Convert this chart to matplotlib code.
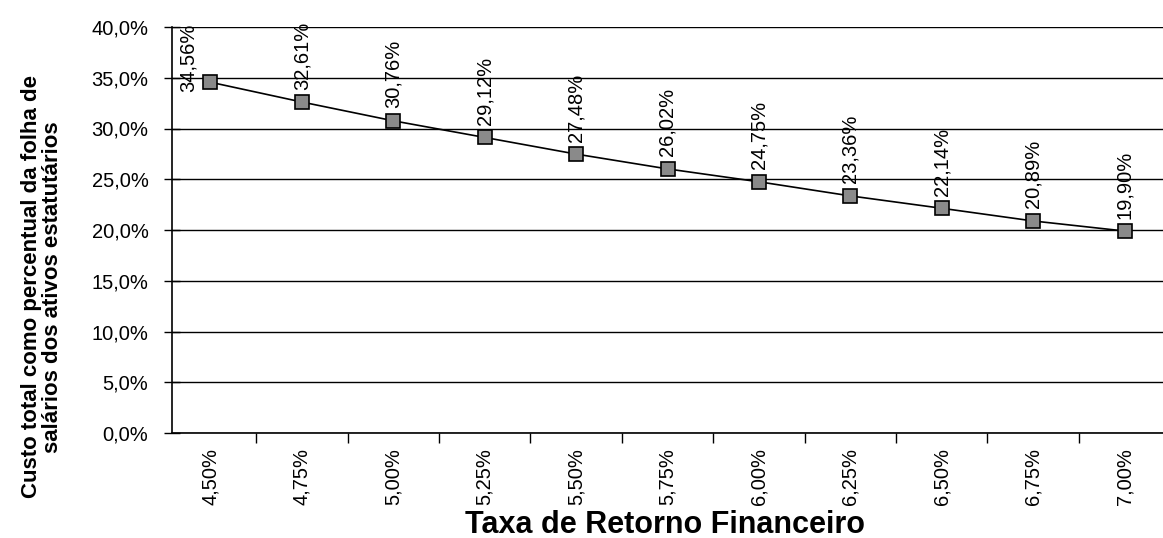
import matplotlib
matplotlib.use("Agg")
import matplotlib.pyplot as plt
from matplotlib.ticker import FixedLocator, FuncFormatter

plt.rcParams['font.family'] = ['Liberation Sans', 'DejaVu Sans']

categories = ["4,50%", "4,75%", "5,00%", "5,25%", "5,50%", "5,75%",
              "6,00%", "6,25%", "6,50%", "6,75%", "7,00%"]
values = [34.56, 32.61, 30.76, 29.12, 27.48, 26.02, 24.75, 23.36, 22.14, 20.89, 19.90]
y_ticks = [0, 5, 10, 15, 20, 25, 30, 35, 40]

fig = plt.figure(figsize=(11.63, 5.38), dpi=100)
ax = fig.add_axes([172/1163, 1-433/538, 1-172/1163, (433-27)/538])

x = list(range(len(categories)))
ax.plot(x, values, color='black', lw=1.2, marker='s', markersize=10,
        markerfacecolor='#8a8a8a', markeredgecolor='black', markeredgewidth=1.2,
        zorder=5, clip_on=False)

for i, v in enumerate(values):
    label = f"{v:.2f}%".replace('.', ',')
    if i == 0:
        off = (-16, -7)
    else:
        off = (0, 9)
    ax.annotate(label, (i, v), xytext=off, textcoords='offset points',
                rotation=90, ha='center', va='bottom', fontsize=14.5,
                annotation_clip=False, zorder=6)

ax.set_xlim(-0.42, len(categories) - 1 + 0.42)
ax.set_ylim(0, 40)
ax.set_yticks(y_ticks)
ax.yaxis.set_major_formatter(FuncFormatter(lambda v, p: f"{v:.1f}%".replace('.', ',')))
ax.yaxis.grid(True, color='black', lw=1.0)
ax.set_axisbelow(True)

ax.set_xticks(x)
ax.set_xticklabels(categories, rotation=90, fontsize=14.5)
ax.xaxis.set_minor_locator(FixedLocator([i + 0.5 for i in x[:-1]]))
ax.tick_params(axis='x', which='major', length=0, pad=11)
ax.tick_params(axis='x', which='minor', length=7, width=1, direction='out')
ax.tick_params(axis='y', which='major', length=12, width=1, direction='inout', labelsize=14.5, pad=11)

for s in ['top', 'right']:
    ax.spines[s].set_visible(False)
ax.spines['left'].set_linewidth(1.2)
ax.spines['bottom'].set_linewidth(1.2)

fig.text(665/1163, 1-525/538, "Taxa de Retorno Financeiro", ha='center', va='center',
         fontsize=22, fontweight='bold')
fig.text(42/1163, 1-287/538, "Custo total como percentual da folha de\nsalários dos ativos estatutários",
         rotation=90, ha='center', va='center', fontsize=16, fontweight='bold',
         multialignment='center', linespacing=0.95)

fig.savefig("out.png", dpi=100)
